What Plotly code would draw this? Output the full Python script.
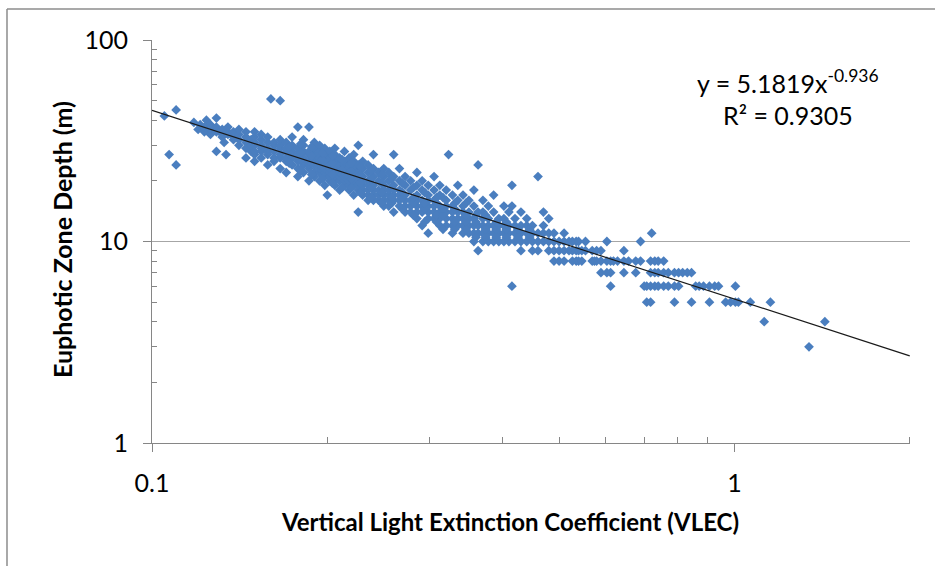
import plotly.graph_objects as go

# ---- data (VLEC, euphotic depth in m) ----
sparse_vlec = [0.105, 0.110, 0.107, 0.110, 0.118, 0.121, 0.124, 0.129, 0.129, 0.133, 0.134, 0.145,
               0.120, 0.123, 0.123, 0.126, 0.126, 0.126, 0.129, 0.129, 0.132, 0.132, 0.132,
               0.135, 0.135, 0.135, 0.138, 0.138, 0.138, 0.141, 0.141, 0.141, 0.141,
               0.145, 0.145, 0.145, 0.145, 0.148, 0.148, 0.148]
sparse_depth = [42, 45, 27, 24, 39, 38, 40, 41, 28, 31, 27, 26,
                36, 35, 37, 34, 36, 38, 35, 37, 33, 34, 36,
                34, 35, 37, 32, 33, 35, 30, 32, 34, 36,
                29, 31, 33, 35, 28, 30, 32]

band_vlec = [0.150, 0.154, 0.158, 0.160, 0.162, 0.166, 0.170, 0.174, 0.178, 0.182, 0.186,
             0.190, 0.194, 0.198, 0.200, 0.202, 0.206, 0.210, 0.214, 0.218, 0.222, 0.226,
             0.230, 0.235, 0.240, 0.245, 0.250, 0.255, 0.260, 0.266, 0.272, 0.278, 0.285,
             0.291, 0.298, 0.305, 0.312, 0.320, 0.323, 0.328, 0.335, 0.342, 0.350, 0.357,
             0.363, 0.370, 0.378, 0.386, 0.394, 0.402, 0.410, 0.415, 0.420, 0.430, 0.440,
             0.450, 0.460, 0.470, 0.480, 0.490, 0.500, 0.510, 0.520, 0.527, 0.535, 0.540,
             0.547, 0.555, 0.570, 0.575, 0.580, 0.590, 0.604, 0.613, 0.620, 0.630, 0.646,
             0.658, 0.677, 0.690, 0.700, 0.707, 0.718, 0.721, 0.730, 0.740, 0.756, 0.770,
             0.789, 0.802, 0.815, 0.830, 0.844, 0.858, 0.870, 0.885, 0.906, 0.925, 0.939,
             0.966, 0.985, 1.004, 1.016, 1.065, 1.125, 1.153, 1.343, 1.430]
band_depth = [
    [25, 27, 28, 30, 31, 33, 35], [26, 28, 29, 30, 32, 34], [24, 27, 28, 29, 31, 33], [51],
    [25, 26, 28, 30, 31], [50, 23, 26, 27, 29, 30, 32], [22, 25, 26, 28, 29, 31],
    [24, 26, 27, 28, 30, 33], [21, 23, 25, 26, 27, 29, 37], [22, 24, 25, 26, 28, 30, 32],
    [20, 23, 24, 25, 27, 28, 37], [21, 22, 24, 25, 26, 27, 29, 31],
    [20, 22, 23, 24, 25, 26, 28, 30], [19, 21, 22, 23, 24, 25, 27, 29], [17],
    [20, 21, 22, 23, 24, 26, 28], [19, 20, 21, 22, 23, 25, 27, 29], [18, 20, 21, 22, 23, 24, 26],
    [19, 20, 21, 22, 24, 25, 28], [18, 19, 20, 21, 23, 24, 26], [17, 19, 20, 21, 22, 23, 25, 27],
    [14, 30, 18, 19, 20, 22, 24], [17, 18, 19, 20, 21, 23, 25], [16, 17, 18, 19, 20, 22, 24],
    [16, 17, 18, 19, 21, 23, 27], [16, 17, 18, 20, 22], [15, 16, 17, 18, 19, 21, 23],
    [15, 16, 17, 18, 20, 22], [14, 16, 17, 18, 19, 21, 27], [15, 16, 17, 18, 20, 23],
    [14, 15, 16, 17, 19, 21], [14, 15, 16, 18, 20], [13, 14, 15, 16, 17, 19, 22],
    [12, 14, 15, 16, 18, 20], [11, 13, 14, 15, 16, 17, 19], [13, 14, 15, 16, 18, 21],
    [12, 13, 14, 15, 17, 19], [12, 13, 14, 15, 16, 18], [27], [11, 12, 13, 14, 15, 17],
    [12, 13, 14, 16, 19], [11, 12, 13, 14, 15, 17], [11, 12, 13, 14, 16],
    [10, 11, 12, 13, 15, 18], [9, 24, 11, 12, 14], [10, 11, 12, 13, 14, 16],
    [10, 11, 12, 13, 15], [10, 11, 12, 14, 17], [10, 11, 12, 13], [10, 11, 12, 13, 15],
    [10, 11, 12, 14], [6, 15, 19], [10, 11, 12, 13], [9, 10, 11, 12, 14], [10, 11, 12, 13],
    [9, 10, 11, 12], [9, 10, 11, 21], [10, 11, 12, 14], [9, 10, 11, 13], [8, 9, 10, 11],
    [8, 9, 10], [8, 9, 10, 11], [9, 10], [8, 9, 10], [8, 9, 10], [8, 9, 10],
    [8, 9], [9, 10], [8, 9], [8], [8, 9], [7, 8, 9], [7, 8, 10], [6, 7, 8], [8], [8],
    [7, 8, 9], [8], [7, 8], [8, 10], [6], [5, 6], [5, 6, 7, 8], [11], [6, 7, 8], [6, 7, 8],
    [6, 7, 8], [6, 7], [5, 6, 7], [6, 7], [7], [7], [5, 7], [6], [6], [6], [5, 6], [6], [6],
    [5], [5], [5, 6], [5], [5], [4], [5], [3], [4]]

band2_vlec = [0.172, 0.180, 0.188, 0.196, 0.204, 0.212, 0.220, 0.228, 0.238, 0.248, 0.258,
              0.269, 0.281, 0.294, 0.308, 0.316, 0.331, 0.346, 0.360, 0.374, 0.390, 0.406,
              0.425, 0.445]
band2_depth = [
    [24.5, 27.5, 29.5], [22.5, 25.5, 27.5, 30.5], [21.5, 24.5, 26.5, 29.5],
    [20.5, 23.5, 25.5, 27.5], [19.5, 21.5, 24.5, 26.5], [18.5, 21.5, 22.5, 25.5],
    [18.5, 20.5, 22.5, 24.5], [17.5, 19.5, 21.5, 23.5], [16.5, 18.5, 20.5, 22.5],
    [15.5, 17.5, 19.5, 21.5], [15.5, 16.5, 18.5, 20.5], [14.5, 16.5, 17.5, 19.5],
    [13.5, 15.5, 16.5, 18.5], [12.5, 14.5, 15.5, 17.5], [12.5, 13.5, 15.5, 16.5],
    [11.5, 13.5, 14.5, 16.5], [11.5, 12.5, 14.5, 15.5], [11.5, 12.5, 13.5, 15.5],
    [10.5, 12.5, 13.5], [10.5, 11.5, 13.5], [10.5, 11.5, 12.5], [10.5, 11.5, 12.5],
    [10.5, 11.5], [10.5, 11.5]]

fit_a = 5.1819
fit_b = -0.936
fit_range = [0.1, 2.0]

vlec = list(sparse_vlec)
depth = list(sparse_depth)
for cols_x, cols_y in ((band_vlec, band_depth), (band2_vlec, band2_depth)):
    for xv, col in zip(cols_x, cols_y):
        for yv in col:
            vlec.append(xv)
            depth.append(yv)

fit_y = [fit_a * v ** fit_b for v in fit_range]

AX = '#868686'
fig = go.Figure()
fig.add_trace(go.Scatter(x=vlec, y=depth, mode='markers',
                         marker=dict(symbol='diamond', size=7.5, color='#4A7EBF',
                                     line=dict(width=0)),
                         hoverinfo='x+y'))
fig.add_trace(go.Scatter(x=fit_range, y=fit_y, mode='lines',
                         line=dict(color='#1a1a1a', width=1.2), hoverinfo='skip'))

fig.update_layout(
    width=935, height=566,
    margin=dict(l=152, r=25, t=40, b=123),
    plot_bgcolor='white', paper_bgcolor='white',
    showlegend=False,
    font=dict(family='Lato', color='#000000'),
    xaxis=dict(type='log', range=[-1, 0.3015],
               tickvals=[0.1, 1], ticktext=['0.1', '1'],
               ticks='outside', ticklen=8, tickcolor=AX, tickwidth=1,
               tickfont=dict(size=25), ticklabelstandoff=10,
               showline=True, linecolor=AX, linewidth=1,
               showgrid=False, zeroline=False,
               minor=dict(tickvals=[0.2, 0.3, 0.4, 0.5, 0.6, 0.7, 0.8, 0.9, 2],
                          ticks='inside', ticklen=6, tickcolor=AX, showgrid=False)),
    yaxis=dict(type='log', range=[0, 2],
               tickvals=[1, 10, 100], ticktext=['1', '10', '100'],
               ticks='outside', ticklen=8, tickcolor=AX, tickwidth=1,
               tickfont=dict(size=25), ticklabelstandoff=10,
               showline=True, linecolor=AX, linewidth=1,
               showgrid=True, gridcolor='#a6a6a6', gridwidth=1, zeroline=False,
               minor=dict(tickvals=[2, 3, 4, 5, 6, 7, 8, 9, 20, 30, 40, 50, 60, 70, 80, 90],
                          ticks='inside', ticklen=5, tickcolor=AX, showgrid=False)),
    annotations=[
        dict(text='<b>Vertical Light Extinction Coefficient (VLEC)</b>', xref='paper', yref='paper',
             x=0.4723, y=-0.196, xanchor='center', yanchor='middle', showarrow=False,
             font=dict(size=24, family='Lato')),
        dict(text='<b>Euphotic Zone Depth (m)</b>', xref='paper', yref='paper',
             x=-0.1187, y=0.5037, xanchor='center', yanchor='middle', showarrow=False,
             textangle=-90, font=dict(size=25, family='Lato')),
        dict(text='y = 5.1819x<sup>-0.936</sup>', xref='paper', yref='paper',
             x=0.839, y=0.8958, xanchor='center', yanchor='middle', showarrow=False,
             font=dict(size=25, family='Lato')),
        dict(text='R² = 0.9305', xref='paper', yref='paper',
             x=0.839, y=0.8139, xanchor='center', yanchor='middle', showarrow=False,
             font=dict(size=25, family='Lato')),
    ],
    shapes=[
        dict(type='line', xref='paper', yref='paper', x0=-0.1913, x1=1.1, y0=1.0769, y1=1.0769,
             line=dict(color='#8c8c8c', width=1.5)),
        dict(type='line', xref='paper', yref='paper', x0=-0.1913, x1=-0.1913, y0=1.0769, y1=-0.4,
             line=dict(color='#8c8c8c', width=1.5)),
    ],
)

fig.write_html('out.html')
